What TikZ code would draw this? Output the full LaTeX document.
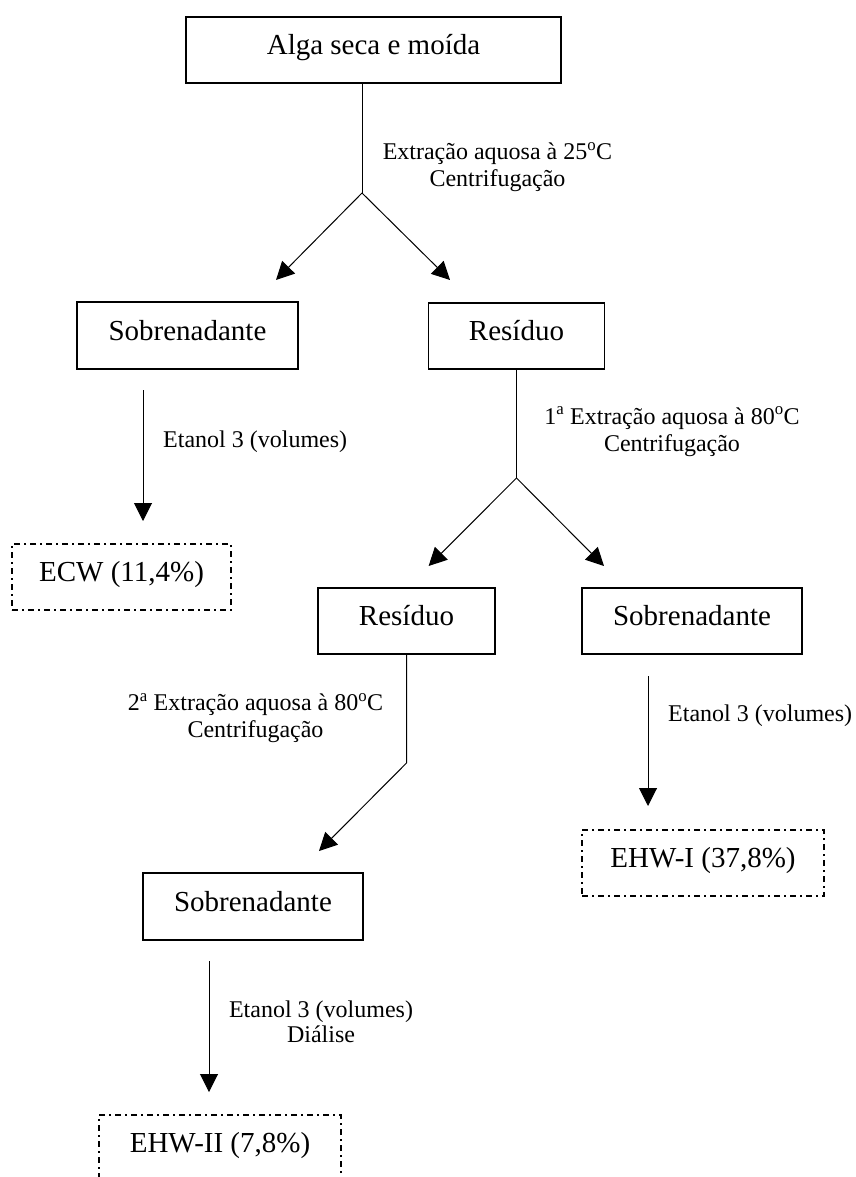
\documentclass[tikz,border=0pt]{standalone}
\usepackage{fontspec}
\setmainfont{Liberation Serif}
\usetikzlibrary{arrows.meta}
\begin{document}
\begin{tikzpicture}[x=1pt,y=-1pt,
  stage/.style={draw, line width=1.2pt, font=\fontsize{29}{33}\selectfont,
    text height=20pt, text depth=11pt, inner sep=0pt, minimum height=66pt},
  yieldbox/.style={stage, dash pattern=on 6pt off 4pt on 2pt off 4pt},
  flow/.style={line width=1pt, -{Triangle[length=18pt,width=18pt]}},
  link/.style={line width=1pt},
  note/.style={font=\fontsize{24}{27}\selectfont, inner sep=0pt, anchor=base},
]
\clip (0,0) rectangle (856,1177);

% process stages
\node[stage, minimum width=375pt] (alga) at (373.5,50) {Alga seca e moída};
\node[stage, minimum width=221pt, minimum height=67pt] (sob1) at (187.5,335.5) {Sobrenadante};
\node[stage, minimum width=176pt] (res1) at (516.5,336) {Resíduo};
\node[stage, minimum width=177pt] (res2) at (406.5,621) {Resíduo};
\node[stage, minimum width=220pt] (sob2) at (692,621) {Sobrenadante};
\node[stage, minimum width=220pt, minimum height=67pt] (sob3) at (253,906.5) {Sobrenadante};

% fractions obtained
\node[yieldbox, minimum width=219pt] (ecw) at (121.5,577) {ECW (11,4\%)};
\node[yieldbox, minimum width=242pt] (ehw1) at (703,863) {EHW-I (37,8\%)};
\node[yieldbox, minimum width=242pt] (ehw2) at (220,1148) {EHW-II (7,8\%)};

% branch points and arrow ends
\coordinate (f1) at (362,193);
\coordinate (t1a) at (276,280);
\coordinate (t1b) at (450,280);
\coordinate (f2) at (516.5,478);
\coordinate (t2a) at (428.6,566);
\coordinate (t2b) at (604,566);
\coordinate (b3) at (406.5,763);
\coordinate (t3) at (319,851);
\coordinate (e1s) at (143,390);
\coordinate (e1e) at (143,521);
\coordinate (e2s) at (648,676);
\coordinate (e2e) at (648,806);
\coordinate (e3s) at (209,961);
\coordinate (e3e) at (209,1092);

% connectors
\draw[link] (alga.south -| f1) -- (f1);
\draw[flow] (f1) -- (t1a);
\draw[flow] (f1) -- (t1b);
\draw[link] (res1.south) -- (f2);
\draw[flow] (f2) -- (t2a);
\draw[flow] (f2) -- (t2b);
\draw[flow] (res2.south) -- (b3) -- (t3);
\draw[flow] (e1s) -- (e1e);
\draw[flow] (e2s) -- (e2e);
\draw[flow] (e3s) -- (e3e);

% step labels
\node[note] (l1) at (497.5,160) {\begin{tabular}[t]{@{}c@{}}Extração aquosa à 25\textsuperscript{o}C\\ Centrifugação\end{tabular}};
\node[note] (l2) at (672,424) {\begin{tabular}[t]{@{}c@{}}1\textsuperscript{a} Extração aquosa à 80\textsuperscript{o}C\\ Centrifugação\end{tabular}};
\node[note] (l3) at (255.5,710.5) {\begin{tabular}[t]{@{}c@{}}2\textsuperscript{a} Extração aquosa à 80\textsuperscript{o}C\\ Centrifugação\end{tabular}};
\node[note, font=\fontsize{24}{25}\selectfont] (l4) at (321,1017) {\begin{tabular}[t]{@{}c@{}}Etanol 3 (volumes)\\ Diálise\end{tabular}};
\node[note, anchor=base west] (l5) at (163,447) {Etanol 3 (volumes)};
\node[note, anchor=base west] (l6) at (668,721) {Etanol 3 (volumes)};
\end{tikzpicture}
\end{document}
